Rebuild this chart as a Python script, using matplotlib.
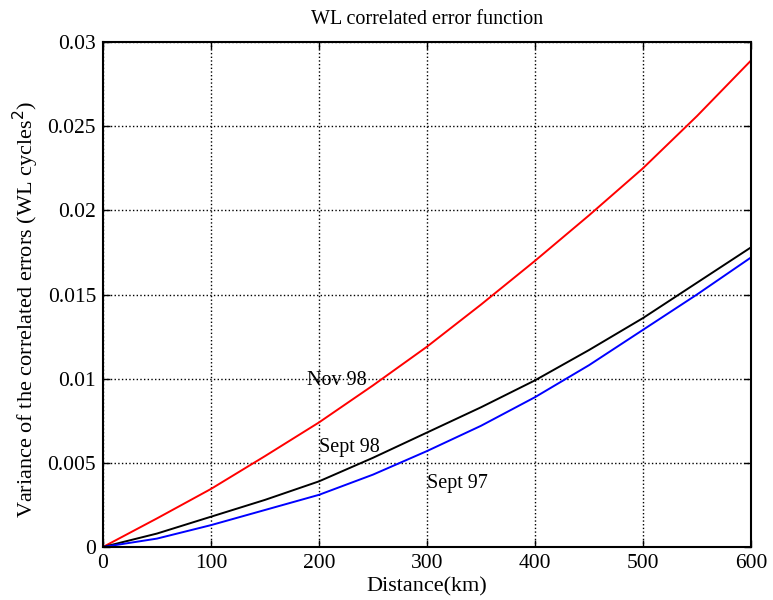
import numpy as np
import matplotlib
matplotlib.use("Agg")
import matplotlib.pyplot as plt

plt.rcParams['font.family'] = ['Liberation Serif', 'DejaVu Serif']

distance = [0, 50, 100, 150, 200, 250, 300, 350, 400, 450, 500, 550, 600]
nov98 = [0, 0.0017, 0.00345, 0.0054, 0.0074, 0.0096, 0.0119, 0.0144, 0.0170, 0.0197, 0.0225, 0.0256, 0.0289]
sept98 = [0, 0.0008, 0.0018, 0.0028, 0.0039, 0.0053, 0.0068, 0.0083, 0.0099, 0.0117, 0.0136, 0.0157, 0.0178]
sept97 = [0, 0.0005, 0.0013, 0.0022, 0.0031, 0.0043, 0.0057, 0.0072, 0.0089, 0.0108, 0.0129, 0.0150, 0.0172]

labels = ["Nov 98", "Sept 98", "Sept 97"]
label_pos = [(189, 0.0099), (200, 0.0059), (300, 0.0038)]

fig = plt.figure(figsize=(7.73, 6.0), dpi=100)
ax = fig.add_axes([0.1332, 0.0883, 0.8383, 0.8417])

ax.plot(distance, nov98, color='red', lw=1.4)
ax.plot(distance, sept98, color='black', lw=1.4)
ax.plot(distance, sept97, color='blue', lw=1.4)

for t, (x, y) in zip(labels, label_pos):
    ax.text(x, y, t, fontsize=14.5, va='center', ha='left')

ax.set_xlim(0, 600)
ax.set_ylim(0, 0.03)
ax.set_xticks([0, 100, 200, 300, 400, 500, 600])
ax.set_yticks([0, 0.005, 0.01, 0.015, 0.02, 0.025, 0.03])
ax.set_yticklabels(['0', '0.005', '0.01', '0.015', '0.02', '0.025', '0.03'])
ax.grid(True, color='black', linestyle=':', linewidth=1)
ax.tick_params(direction='in', length=5, width=1, labelsize=15.5, top=True, right=True, pad=5)
for s in ax.spines.values():
    s.set_linewidth(1.5)

ax.set_title("WL correlated error function", fontsize=14.5, pad=13)
ax.set_xlabel("Distance(km)", fontsize=16, labelpad=3)
ax.set_ylabel("Variance of the correlated errors (WL cycles$^2$)", fontsize=16, labelpad=1)
ax.yaxis.set_label_coords(-0.095, 0.47)

fig.savefig("out.png", dpi=100)
